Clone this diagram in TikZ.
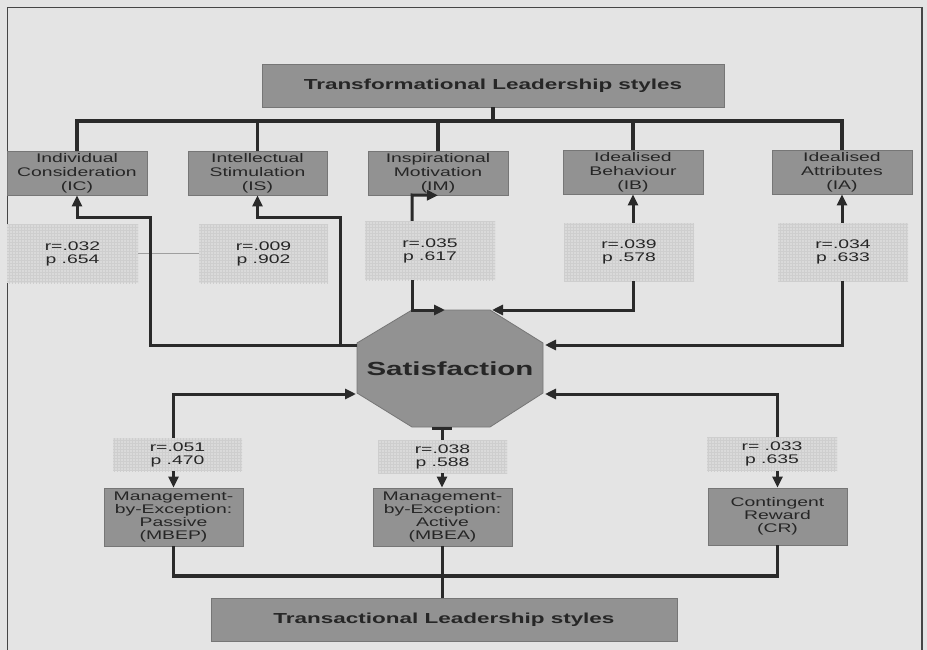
\documentclass[tikz,border=0pt]{standalone}
\usepackage{fontspec}
\setmainfont{Liberation Sans}[FakeStretch=1.55]
\usetikzlibrary{arrows.meta,patterns,calc}
\definecolor{bg}{RGB}{228,228,228}
\definecolor{boxfill}{RGB}{146,146,146}
\definecolor{boxline}{RGB}{118,118,118}
\definecolor{rfill}{RGB}{218,218,218}
\definecolor{rgrid}{RGB}{206,206,206}
\definecolor{ink}{RGB}{38,38,38}
\definecolor{wire}{RGB}{42,42,42}
\definecolor{frame}{RGB}{70,70,70}
\begin{document}
\begin{tikzpicture}[x=1pt,y=-1pt,
  every node/.style={text=ink},
  box/.style={draw=boxline, line width=0.8pt, fill=boxfill, inner sep=0pt, align=center,
    font=\fontsize{12.5}{14}\selectfont},
  lowbox/.style={box, font=\fontsize{12.5}{13}\selectfont},
  headbox/.style={box, font=\fontsize{14.5}{16}\selectfont\bfseries},
  rbox/.style={fill=rfill, postaction={pattern=grid, pattern color=rgrid}, inner sep=0pt,
    align=center, font=\fontsize{12.5}{13}\selectfont},
  wire/.style={draw=wire, line width=3pt},
  bus/.style={draw=wire, line width=3.5pt},
  arr/.style={wire, -{Triangle[length=11pt,width=10pt]}},
]
\useasboundingbox (0,0) rectangle (927,650);
\fill[bg] (0,0) rectangle (927,650);
\draw[draw=frame, line width=1.3pt] (7.5,650) -- (7.5,7.5) -- (922,7.5) -- (922,650);

% top header and factor boxes
\node[headbox, minimum width=462pt, minimum height=43pt] (TL) at (493,85.5) {Transformational Leadership styles};
\node[box, minimum width=140pt, minimum height=44pt] (IC) at (77,173) {Individual\\Consideration\\(IC)};
\node[box, minimum width=139pt, minimum height=44pt] (IS) at (257.5,173) {Intellectual\\Stimulation\\(IS)};
\node[box, minimum width=140pt, minimum height=44pt] (IM) at (438,173) {Inspirational\\Motivation\\(IM)};
\node[box, minimum width=140pt, minimum height=44pt] (IB) at (633,172) {Idealised\\Behaviour\\(IB)};
\node[box, minimum width=140pt, minimum height=44pt] (IA) at (842,172) {Idealised\\Attributes\\(IA)};

% bottom boxes
\node[lowbox, minimum width=139pt, minimum height=58pt] (MBEP) at (173.5,517) {Management-\\by-Exception:\\Passive\\(MBEP)};
\node[lowbox, minimum width=139pt, minimum height=58pt] (MBEA) at (442.5,517) {Management-\\by-Exception:\\Active\\(MBEA)};
\node[lowbox, minimum width=139pt, minimum height=57pt] (CR) at (777.5,516.5) {Contingent\\Reward\\(CR)};
\node[headbox, minimum width=466pt, minimum height=43pt] (TR) at (444,619.5) {Transactional Leadership styles};

% r/p boxes
\node[rbox, minimum width=131pt, minimum height=59pt] (ICr) at (72.5,253.5) {r=.032\\p .654};
\node[rbox, minimum width=129pt, minimum height=59pt] (ISr) at (263.5,253.5) {r=.009\\p .902};
\node[rbox, minimum width=130pt, minimum height=59pt] (IMr) at (430,250.5) {r=.035\\p .617};
\node[rbox, minimum width=130pt, minimum height=58pt] (IBr) at (629,252) {r=.039\\p .578};
\node[rbox, minimum width=130pt, minimum height=58pt] (IAr) at (843,252) {r=.034\\p .633};
\node[rbox, minimum width=129pt, minimum height=33pt] (MBEPr) at (177.5,454.5) {r=.051\\p .470};
\node[rbox, minimum width=129pt, minimum height=33pt] (MBEAr) at (442.5,456.5) {r=.038\\p .588};
\node[rbox, minimum width=130pt, minimum height=34pt] (CRr) at (772,454) {r= .033\\p .635};

% Satisfaction octagon
\coordinate (oTL) at (412,310); \coordinate (oTR) at (490,310);
\coordinate (oRU) at (543,343); \coordinate (oRL) at (543,393);
\coordinate (oBR) at (490,427); \coordinate (oBL) at (412,427);
\coordinate (oLL) at (357,393); \coordinate (oLU) at (357,343);
\draw[fill=boxfill, draw=boxline, line width=0.8pt] (oTL)--(oTR)--(oRU)--(oRL)--(oBR)--(oBL)--(oLL)--(oLU)--cycle;
\node[font=\fontsize{19}{21}\selectfont\bfseries] (sat) at (450,368.5) {Satisfaction};
\coordinate (satL) at (357,345);
\coordinate (satT1) at (445,310);
\coordinate (satT2) at (492,310);
\coordinate (satRU) at (545,345);
\coordinate (satLL) at (356,394);
\coordinate (satRL) at (545,394);
\coordinate (satB) at (442,427);

% buses
\coordinate (busT) at (493,121);
\draw[bus] (TL.south) -- (busT);
\draw[bus] (IC.north) -- (IC.north |- busT) -- (IA.north |- busT) -- (IA.north);
\draw[bus] (IS.north) -- (IS.north |- busT);
\draw[bus] (IM.north) -- (IM.north |- busT);
\draw[bus] (IB.north) -- (IB.north |- busT);
\coordinate (busB) at (442,576);
\draw[bus] (MBEP.south) -- (MBEP.south |- busB) -- (CR.south |- busB) -- (CR.south);
\draw[bus] (MBEA.south) -- (TR.north -| MBEA.south);

% thin line between r boxes
\draw[draw=gray!75, line width=0.8pt] (ICr.east) -- (ISr.west);

% connectors, transformational
\draw[arr] (satL) -- (150,345) -- (150,217) -- (IC.south |- 0,217) -- (IC.south);
\draw[arr] (340,345) -- (340,217) -- (IS.south |- 0,217) -- (IS.south);
\draw[arr] ([xshift=-18pt]IMr.north) -- (412,195) -- (IM.south);
\draw[arr] ([xshift=-18pt]IMr.south) -- (412,310) -- (satT1);
\draw[arr] (IBr.north -| IB.south) -- (IB.south);
\draw[arr] (IBr.south -| IB.south) -- (IB.south |- satT2) -- (satT2);
\draw[arr] (IAr.north -| IA.south) -- (IA.south);
\draw[arr] (IAr.south -| IA.south) -- (IA.south |- satRU) -- (satRU);

% connectors, transactional
\draw[arr] (MBEPr.north -| MBEP.north) -- (MBEP.north |- satLL) -- (satLL);
\draw[arr] (MBEPr.south -| MBEP.north) -- (MBEP.north);
\draw[wire, {Bar[width=20pt,line width=3pt]}-] (satB) -- (MBEAr.north -| satB);
\draw[arr] (MBEAr.south -| satB) -- (MBEA.north -| satB);
\draw[arr] (CRr.north -| CR.north) -- (CR.north |- satRL) -- (satRL);
\draw[arr] (CRr.south -| CR.north) -- (CR.north);
\end{tikzpicture}
\end{document}
